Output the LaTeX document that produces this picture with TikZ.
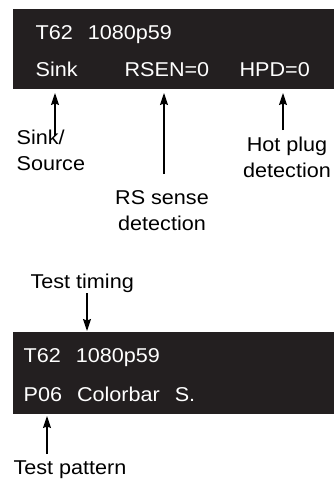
\documentclass[tikz,border=0pt]{standalone}
\usepackage{fontspec}
\setmainfont{Liberation Sans}[FakeStretch=1.08]
\usepackage{tikz}
\usetikzlibrary{arrows.meta,positioning}
\definecolor{screen}{HTML}{231F20}

\begin{document}
\begin{tikzpicture}[
		x=1pt, y=-1pt,
		txt/.style={inner sep=0pt, anchor=base west, font=\fontsize{20}{26}\selectfont},
		lcd/.style={txt, text=white},
		lbl/.style={txt, align=center, anchor=base},
		>={Stealth[length=12pt,width=8pt,inset=1.5pt]}, % fleches pleines
		line width=1.2pt
		]
		\useasboundingbox (0,0) rectangle (334,479);
		
		% Ecran du haut
		\fill[screen] (13,9) rectangle (334,89);
		\node[lcd] (tim1) at (35,39) {T62\hspace{0.75em}1080p59};
		\node[lcd] (sink) at (35,76) {Sink};
		\node[lcd] (rsen) at (124,76) {RSEN=0};
		\node[lcd] (hpd) at (239,76) {HPD=0};
		
		% Les legendes du haut (base = derniere ligne)
		\node[txt, align=left] (src) at (16,170) {Sink/\\Source};
		\node[lbl] (rslbl) at (162,230) {RS sense\\detection};
		\node[lbl] (hplbl) at (287,177) {Hot plug\\detection};
		
		\coordinate (sinktip) at (55,93);
		\coordinate (rstip) at (164,93);
		\coordinate (hptip) at (283,93);
		\coordinate (sinktail) at (55,136);
		\coordinate (rstail) at (164,174);
		\coordinate (hptail) at (283,130);
		
		\draw[->] (sinktail) -- (sinktip);
		\draw[->] (rstail) -- (rstip);
		\draw[->] (hptail) -- (hptip);
		
		% Ecran du bas
		\fill[screen] (13,332) rectangle (334,414);
		\node[lcd] (tim2) at (23,362) {T62\hspace{0.75em}1080p59};
		\node[lcd] (pat) at (23,401) {P06\hspace{0.75em}Colorbar\hspace{0.75em}S.};
		
		% Les legendes du bas
		\node[txt] (tmlbl) at (30,288) {Test timing};
		\node[txt] (ptlbl) at (13,474) {Test pattern};
		
		\coordinate (tmtail) at (87,293);
		\coordinate (tmtip) at (87,331);
		\coordinate (pttail) at (47,454);
		\coordinate (pttip) at (47,416);
		
		\draw[->] (tmtail) -- (tmtip);
		\draw[->] (pttail) -- (pttip);
	\end{tikzpicture}
\end{document}
